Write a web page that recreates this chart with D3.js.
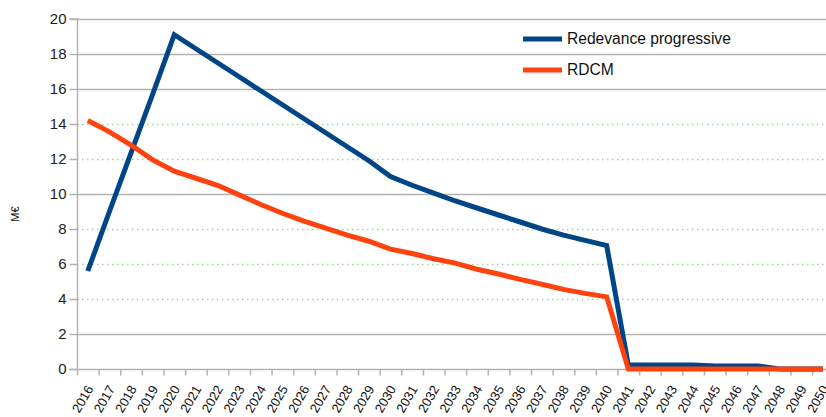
<!DOCTYPE html>
<html>
<head>
<meta charset="utf-8">
<script src="https://cdn.jsdelivr.net/npm/d3@7"></script>
<style>
  body { margin: 0; background: #fff; }
  svg { display: block; font-family: "Liberation Sans", Arial, sans-serif; }
</style>
</head>
<body>
<div id="chartContainer"></div>
<script>
// Data
const years = d3.range(2016, 2051).map(String);
const redevance = [5.6, 9.0, 12.35, 15.7, 19.1, 18.3, 17.5, 16.7, 15.9, 15.1, 14.3, 13.5, 12.7, 11.9, 11.0,
  10.5, 10.05, 9.6, 9.2, 8.8, 8.4, 8.0, 7.65, 7.35, 7.05,
  0.23, 0.23, 0.23, 0.23, 0.17, 0.17, 0.17, 0, 0, 0];
const rdcm = [14.2, 13.55, 12.8, 11.95, 11.3, 10.9, 10.5, 9.95, 9.4, 8.9, 8.45, 8.05, 7.65, 7.3, 6.85,
  6.6, 6.3, 6.05, 5.7, 5.43, 5.12, 4.84, 4.55, 4.32, 4.12,
  0, 0, 0, 0, 0, 0, 0, 0, 0, 0];
const yTicks = [0, 2, 4, 6, 8, 10, 12, 14, 16, 18, 20];
// gridlines that show as dotted green in the picture
const dottedTicks = [4, 6, 8, 12, 14];
const seriesNames = ['Redevance progressive', 'RDCM'];
const colors = ['#004586', '#ff420e'];

const width = 826;
const height = 417;
const margin = { top: 19, left: 77, bottom: 48 };
const band = 21.62;

const svg = d3
  .select('#chartContainer')
  .append('svg')
  .attr('width', width)
  .attr('height', height);

// category axis runs past the right edge, as in the cropped original
const x = d3.scaleBand()
  .domain(years)
  .range([margin.left, margin.left + band * years.length]);
const y = d3.scaleLinear()
  .domain([0, 20])
  .range([height - margin.bottom, margin.top]);

// Gridlines
svg.append('g')
  .selectAll('line')
  .data(yTicks.filter(d => d > 0))
  .enter()
  .append('line')
  .attr('x1', margin.left)
  .attr('x2', width)
  .attr('y1', d => y(d) + 0.5)
  .attr('y2', d => y(d) + 0.5)
  .attr('stroke', d => dottedTicks.includes(d) ? '#9ed39a' : '#b3b3b3')
  .attr('stroke-width', 1.5)
  .attr('stroke-dasharray', d => dottedTicks.includes(d) ? '1.5,3.5' : null);

// Y axis
const yAxis = d3.axisLeft(y).tickValues(yTicks).tickSize(8).tickPadding(3);
const gy = svg.append('g')
  .attr('transform', `translate(${margin.left + 0.5},0)`)
  .call(yAxis);
gy.select('.domain').attr('stroke', '#b3b3b3').attr('stroke-width', 1.5)
  .attr('d', `M-8,${y(20)}H0V${y(0)}`);
gy.selectAll('.tick line').attr('stroke', '#b3b3b3').attr('stroke-width', 1.5);
gy.selectAll('.tick text')
  .attr('fill', '#222')
  .style('font-size', '15px')
  .style('font-family', '"Liberation Sans", Arial, sans-serif');

// X axis: ticks sit between categories
const gx = svg.append('g')
  .attr('transform', `translate(0,${y(0) + 0.5})`);
gx.append('line')
  .attr('x1', margin.left - 8)
  .attr('x2', width)
  .attr('stroke', '#b3b3b3')
  .attr('stroke-width', 1.5);
gx.selectAll('.xtick')
  .data(years)
  .enter()
  .append('line')
  .attr('class', 'xtick')
  .attr('x1', d => x(d) + 0.5)
  .attr('x2', d => x(d) + 0.5)
  .attr('y1', 0)
  .attr('y2', 6)
  .attr('stroke', '#b3b3b3')
  .attr('stroke-width', 1.5);
gx.selectAll('.xlabel')
  .data(years)
  .enter()
  .append('text')
  .attr('class', 'xlabel')
  .attr('transform', d => `translate(${x(d) + x.bandwidth() / 2 + 2},${17}) rotate(-60)`)
  .attr('text-anchor', 'end')
  .attr('dy', '0.35em')
  .style('font-size', '13px')
  .attr('fill', '#111')
  .text(d => d);

// Y label
svg.append('text')
  .attr('transform', `translate(19,${y(10) + 20}) rotate(-90)`)
  .attr('text-anchor', 'middle')
  .style('font-size', '11px')
  .attr('fill', '#111')
  .text('M€');

// Lines
const lineValue = d3.line()
  .x((d, i) => x(years[i]) + x.bandwidth() / 2)
  .y(d => y(d));
[redevance, rdcm].forEach((s, i) => {
  svg.append('path')
    .attr('d', lineValue(s))
    .attr('fill', 'none')
    .attr('stroke', colors[i])
    .attr('stroke-width', 5)
    .attr('stroke-linejoin', 'miter');
});

// Legend
const legend = svg.append('g').attr('transform', 'translate(523,39)');
seriesNames.forEach((name, i) => {
  const g = legend.append('g').attr('transform', `translate(0,${i * 31})`);
  g.append('line')
    .attr('x1', 0).attr('x2', 39)
    .attr('stroke', colors[i])
    .attr('stroke-width', 5);
  g.append('text')
    .attr('x', 44)
    .attr('dy', '0.35em')
    .style('font-size', '15.6px')
    .attr('fill', '#111')
    .text(name);
});
</script>
</body>
</html>
